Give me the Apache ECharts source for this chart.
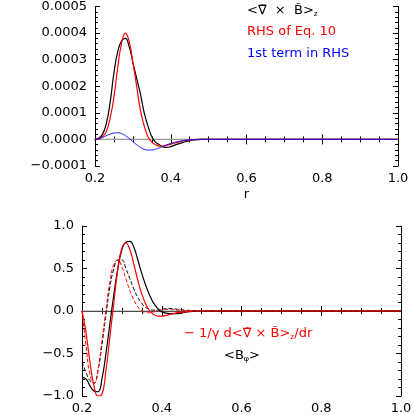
<!DOCTYPE html>
<html><head><meta charset="utf-8">
<script src="https://cdn.jsdelivr.net/npm/echarts@6/dist/echarts.min.js"></script>
<style>html,body{margin:0;padding:0;background:#fff}#c{width:415px;height:415px}</style>
</head><body><div id="c"></div>
<script>
var xs = [0.20,0.21,0.22,0.23,0.24,0.25,0.26,0.27,0.28,0.29,0.30,0.31,0.32,0.33,0.34,0.35,0.36,0.37,0.38,0.39,0.40,0.42,0.44,0.46,0.48,0.50,0.60,1.00];
// top panel
var curlBlack = [0,0.000005,0.00002,0.00006,0.00014,0.00025,0.00033,0.00037,0.00038,0.00035,0.00029,0.00023,0.00017,0.0001,0.00005,0.00001,-0.00001,-0.00002,-0.000028,-0.00003,-0.000027,-0.000017,-0.000008,-0.000002,0,0,0,0];
var rhsRed = [0,0.000002,0.00001,0.00003,0.00008,0.00016,0.00027,0.00036,0.0004,0.00037,0.00029,0.0002,0.00011,0.00005,0.00001,-0.00001,-0.00002,-0.000025,-0.000025,-0.000022,-0.000018,-0.00001,-0.000004,-0.000001,0,0,0,0];
var firstBlue = [0,0.000003,0.000008,0.000014,0.00002,0.000024,0.000025,0.000022,0.000014,0.000004,-0.000008,-0.00002,-0.00003,-0.000037,-0.00004,-0.00004,-0.000037,-0.000032,-0.000026,-0.00002,-0.000015,-0.000008,-0.000003,-0.000001,0,0,0,0];
// bottom panel
var bphiBlack = [-0.78,-0.80,-0.88,-0.94,-0.95,-0.80,-0.50,-0.15,0.2,0.5,0.72,0.81,0.82,0.75,0.6,0.44,0.3,0.18,0.09,0.03,-0.01,-0.03,-0.03,-0.015,-0.005,0,0,0];
var dcurlRed = [0,-0.25,-0.6,-0.88,-1.0,-0.98,-0.7,-0.3,0.1,0.5,0.74,0.8,0.72,0.55,0.36,0.2,0.08,0.0,-0.04,-0.06,-0.06,-0.04,-0.02,-0.01,0,0,0,0];
var bphiBlackDash = [-0.6,-0.72,-0.82,-0.85,-0.7,-0.4,-0.05,0.28,0.5,0.6,0.6,0.5,0.38,0.26,0.16,0.09,0.04,0.02,0.01,0.01,0.02,0.03,0.02,0.01,0.005,0,0,0];
var dcurlRedDash = [0,-0.4,-0.75,-0.85,-0.7,-0.35,0.0,0.35,0.55,0.6,0.52,0.38,0.24,0.13,0.05,0.0,-0.02,-0.02,-0.01,0.0,0.01,0.02,0.01,0.005,0,0,0,0];

function pairs(v){return xs.map(function(x,i){return [x,v[i]];});}
var font = 'DejaVu Sans';
function xAx(g, pos, show, name){
  return {type:'value', gridIndex:g, position:pos, min:0.2, max:1.0, interval:0.2,
    axisLine:{show:true, lineStyle:{color:'#000',width:1}}, axisTick:{inside:true,length:5,lineStyle:{color:'#000'}},
    minorTick:{show:true,splitNumber:4,length:3,lineStyle:{color:'#000'}},
    axisLabel:{show:show, color:'#000', fontFamily:font, fontSize:13, margin:6, formatter:function(v){return v.toFixed(1);}},
    splitLine:{show:false}, name:name||'', nameLocation:'middle', nameGap:22, nameTextStyle:{color:'#000',fontFamily:font,fontSize:13}};
}
function yAx(g, pos, show, min, max, itv, dec){
  return {type:'value', gridIndex:g, position:pos, min:min, max:max, interval:itv,
    axisLine:{show:true, lineStyle:{color:'#000',width:1}}, axisTick:{inside:true,length:5,lineStyle:{color:'#000'}},
    minorTick:{show:true,splitNumber:5,length:3,lineStyle:{color:'#000'}},
    axisLabel:{show:show, color:'#000', fontFamily:font, fontSize:13, margin:8, formatter:function(v){var s=Math.abs(v).toFixed(dec);return (v<0?'\u2212':'')+s;}},
    splitLine:{show:false}};
}
function ln(name, xi, yi, data, color, type, w){
  return {name:name, type:'line', xAxisIndex:xi, yAxisIndex:yi, data:pairs(data), smooth:true, showSymbol:false,
    lineStyle:{color:color, width:w||1.2, type:type||'solid'}, z:3};
}
function zero(xi, yi){
  return {type:'line', xAxisIndex:xi, yAxisIndex:yi, data:[[0.2,0],[1.0,0]], showSymbol:false, lineStyle:{color:'#999',width:1.2}, z:1, silent:true};
}
var sub = {sub:{fontSize:8, verticalAlign:'bottom', padding:[6,0,0,0]}};
function txt(left, top, text, color){
  return {type:'text', left:left, top:top, style:{text:text, fill:color, font:'13px DejaVu Sans', rich:sub}};
}
var chart = echarts.init(document.getElementById('c'));
chart.setOption({
  animation:false,
  grid:[{left:95, right:17, top:6, height:160}, {left:82, right:14, top:226, height:171}],
  xAxis:[xAx(0,'bottom',true,'r'), xAx(0,'top',false), xAx(1,'bottom',true), xAx(1,'top',false)],
  yAxis:[yAx(0,'left',true,-0.0001,0.0005,0.0001,4), yAx(0,'right',false,-0.0001,0.0005,0.0001,4),
         yAx(1,'left',true,-1,1,0.5,1), yAx(1,'right',false,-1,1,0.5,1)],
  series:[
    zero(0,0),
    ln('curl',0,0,curlBlack,'#000'),
    ln('rhs',0,0,rhsRed,'#ff0000'),
    ln('first',0,0,firstBlue,'#0000ff',null,0.9),
    zero(2,2),
    ln('bphi_d',2,2,bphiBlackDash,'#000','dashed',1),
    ln('dcurl_d',2,2,dcurlRedDash,'#ff0000','dashed',1),
    ln('bphi',2,2,bphiBlack,'#000'),
    ln('dcurl',2,2,dcurlRed,'#ff0000')
  ],
  graphic:[
    txt(247, 4, '<\u2207\u0303  \u00d7  B\u0303>{sub|z}', '#000'),
    txt(247, 25, 'RHS of Eq. 10', '#ff0000'),
    txt(247, 47, '1st term in RHS', '#0000ff'),
    txt(184, 327, '\u2212 1/\u03b3 d<\u2207\u0303 \u00d7 B\u0303>{sub|z}/dr', '#ff0000'),
    txt(224, 349, '<B{sub|\u03c6}>', '#000')
  ]
});
</script></body></html>
